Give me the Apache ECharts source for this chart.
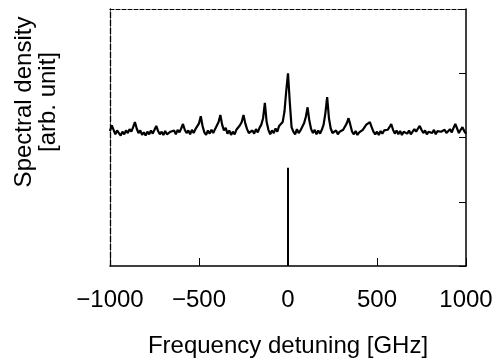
<!DOCTYPE html>
<html>
<head>
<meta charset="utf-8">
<script src="https://cdn.jsdelivr.net/npm/echarts@6/dist/echarts.min.js"></script>
<style>
html,body{margin:0;padding:0;background:#fff;}
#chart{width:499px;height:363px;}
</style>
</head>
<body>
<div id="chart"></div>
<script>
// Frequency detuning [GHz] sample points of the upper trace
var freqs = [
 -1000,-990,-980,-970,-960,-950,-940,-930,-920,-910,
 -900,-890,-880,-870,-860,-850,-840,-830,-820,-810,
 -800,-790,-780,-770,-760,-750,-740,-730,-720,-710,
 -700,-690,-680,-670,-660,-650,-640,-630,-620,-610,
 -600,-590,-580,-570,-560,-550,-540,-530,-520,-510,
 -500,-490,-480,-470,-460,-450,-440,-430,-420,-410,
 -400,-390,-380,-370,-360,-350,-340,-330,-320,-310,
 -300,-290,-280,-270,-260,-250,-240,-230,-220,-210,
 -200,-190,-180,-170,-160,-150,-140,-130,-120,-110,
 -100,-90,-80,-70,-60,-50,-40,-30,-20,-10,
 0,10,20,30,40,50,60,70,80,90,
 100,110,120,130,140,150,160,170,180,190,
 200,210,220,230,240,250,260,270,280,290,
 300,310,320,330,340,350,360,370,380,390,
 400,410,420,430,440,450,460,470,480,490,
 500,510,520,530,540,550,560,570,580,590,
 600,610,620,630,640,650,660,670,680,690,
 700,710,720,730,740,750,760,770,780,790,
 800,810,820,830,840,850,860,870,880,890,
 900,910,920,930,940,950,960,970,980,990,
 1000
];
// Spectral density of the modulated field (upper trace), arb. unit
var upperTrace = [
 2.10,2.19,2.12,2.05,2.11,2.07,2.03,2.09,2.05,2.11,
 2.07,2.13,2.09,2.16,2.24,2.14,2.07,2.11,2.04,2.08,
 2.03,2.09,2.05,2.11,2.06,2.12,2.18,2.10,2.05,2.09,
 2.04,2.10,2.05,2.03,2.09,2.06,2.11,2.05,2.12,2.08,
 2.14,2.21,2.12,2.07,2.11,2.05,2.12,2.07,2.13,2.16,
 2.22,2.33,2.18,2.08,2.04,2.11,2.06,2.12,2.07,2.13,
 2.16,2.24,2.35,2.20,2.11,2.15,2.06,2.11,2.04,2.09,
 2.05,2.12,2.14,2.19,2.24,2.35,2.22,2.13,2.07,2.04,
 2.11,2.06,2.13,2.08,2.15,2.20,2.30,2.54,2.24,2.12,
 2.05,2.11,2.07,2.14,2.09,2.18,2.15,2.24,2.40,2.72,
 3.00,2.55,2.16,2.09,2.05,2.13,2.07,2.11,2.14,2.22,
 2.32,2.47,2.26,2.13,2.07,2.12,2.05,2.11,2.06,2.12,
 2.20,2.38,2.63,2.30,2.14,2.07,2.04,2.11,2.05,2.09,
 2.06,2.12,2.15,2.22,2.30,2.20,2.09,2.05,2.10,2.04,
 2.08,2.05,2.12,2.14,2.20,2.18,2.24,2.16,2.09,2.05,
 2.09,2.04,2.10,2.06,2.11,2.13,2.12,2.16,2.21,2.12,
 2.06,2.11,2.05,2.10,2.04,2.09,2.12,2.06,2.11,2.05,
 2.09,2.13,2.09,2.14,2.18,2.12,2.07,2.11,2.05,2.09,
 2.12,2.07,2.12,2.05,2.10,2.13,2.09,2.06,2.12,2.07,
 2.10,2.13,2.08,2.15,2.21,2.14,2.07,2.12,2.16,2.10,
 2.06
];
// Lower trace: single unmodulated line at zero detuning
var lowerFreqs = [0, 0];
var lowerTrace = [0, 1.53];

var xTicks = [-1000, -500, 0, 500, 1000];
var xTitle = 'Frequency detuning [GHz]';
var yTitle1 = 'Spectral density';
var yTitle2 = '[arb. unit]';

var upperData = freqs.map(function (f, i) { return [f, upperTrace[i]]; });
var lowerData = lowerFreqs.map(function (f, i) { return [f, lowerTrace[i]]; });

var FONT = '"Liberation Sans", Arial, Helvetica, sans-serif';
var chart = echarts.init(document.getElementById('chart'));
chart.setOption({
  animation: false,
  backgroundColor: '#ffffff',
  grid: { left: 110, right: 33, top: 9, bottom: 97 },
  xAxis: [
    {
      type: 'value', position: 'bottom', min: xTicks[0], max: xTicks[xTicks.length - 1], interval: 500,
      axisLine: { onZero: false, lineStyle: { color: '#000', width: 1.5 } },
      axisTick: { show: true, inside: true, length: 8, lineStyle: { color: '#000', width: 1 } },
      splitLine: { show: false },
      axisLabel: {
        margin: 22, color: '#000', fontSize: 24, fontFamily: FONT,
        formatter: function (v) { return v < 0 ? '\u2212' + Math.abs(v) : String(v); }
      },
      name: xTitle, nameLocation: 'middle', nameGap: 68,
      nameTextStyle: { color: '#000', fontSize: 24, fontFamily: FONT }
    },
    {
      type: 'value', position: 'top', min: xTicks[0], max: xTicks[xTicks.length - 1],
      axisLine: { show: true, onZero: false, lineStyle: { color: '#000', width: 1.2, type: [4, 2] } },
      axisTick: { show: false }, axisLabel: { show: false }, splitLine: { show: false }
    }
  ],
  yAxis: [
    {
      type: 'value', position: 'left', min: 0, max: 4, interval: 1,
      axisLine: { show: true, onZero: false, lineStyle: { color: '#000', width: 1.3, type: [6, 2] } },
      axisTick: { show: false }, axisLabel: { show: false }, splitLine: { show: false }
    },
    {
      type: 'value', position: 'right', min: 0, max: 4, interval: 1,
      axisLine: { show: true, onZero: false, lineStyle: { color: '#000', width: 1.5 } },
      axisTick: { show: true, inside: true, length: 7, lineStyle: { color: '#000', width: 1 } },
      axisLabel: { show: false }, splitLine: { show: false }
    }
  ],
  graphic: [
    {
      type: 'text', x: 24, y: 102, rotation: Math.PI / 2,
      style: { text: yTitle1, fill: '#000', font: '24px ' + FONT, align: 'center', verticalAlign: 'middle' }
    },
    {
      type: 'text', x: 48, y: 102, rotation: Math.PI / 2,
      style: { text: yTitle2, fill: '#000', font: '24px ' + FONT, align: 'center', verticalAlign: 'middle' }
    }
  ],
  series: [
    {
      type: 'line', xAxisIndex: 0, yAxisIndex: 0, data: upperData,
      showSymbol: false, symbol: 'none',
      lineStyle: { color: '#000', width: 2.2 }, silent: true
    },
    {
      type: 'line', xAxisIndex: 0, yAxisIndex: 0, data: lowerData,
      showSymbol: false, symbol: 'none',
      lineStyle: { color: '#000', width: 2 }, silent: true
    }
  ]
});
</script>
</body>
</html>
